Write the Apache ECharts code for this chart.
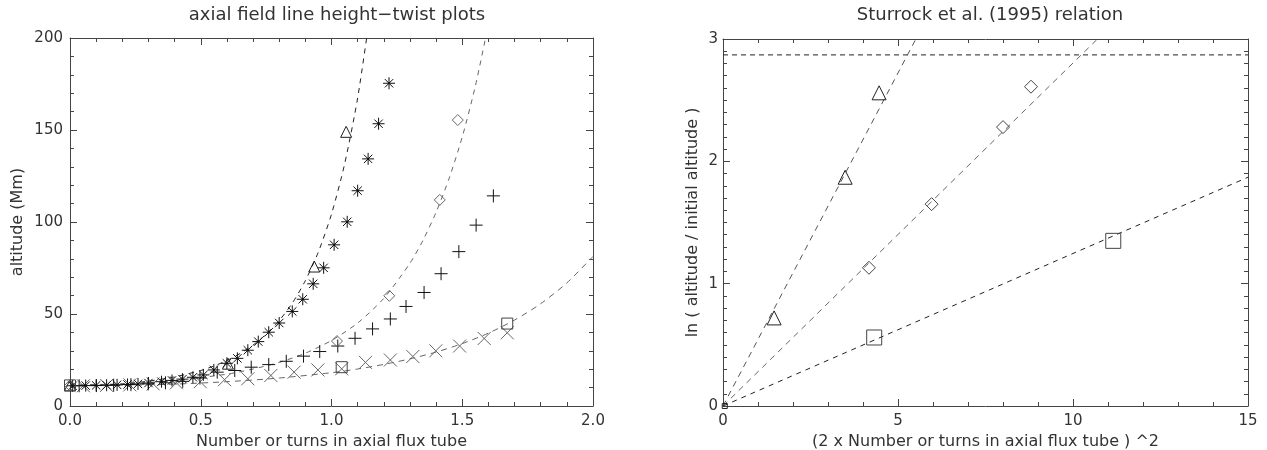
<!DOCTYPE html>
<html><head><meta charset="utf-8">
<script src="https://cdn.jsdelivr.net/npm/echarts@6/dist/echarts.min.js"></script>
<style>html,body{margin:0;padding:0;background:#fff}#c{width:1267px;height:450px}</style>
</head><body><div id="c"></div>
<script>
// ---- Left panel: altitude vs number of turns ----
const asteriskN = [0.01,0.06,0.10,0.14,0.18,0.22,0.26,0.30,0.35,0.39,0.43,0.47,0.51,0.55,0.60,0.64,0.68,0.72,0.76,0.80,0.85,0.89,0.93,0.97,1.01,1.06,1.10,1.14,1.18,1.22];
const asteriskH = [11.0,11.1,11.2,11.3,11.5,11.7,12.0,12.5,13.2,13.9,14.6,15.6,16.9,19.6,23.2,25.9,30.3,35.0,40.1,45.1,51.4,58.0,66.4,75.1,87.6,100.1,117.0,134.3,153.4,175.4];
const plusN = [0.035,0.101,0.167,0.233,0.299,0.365,0.431,0.497,0.563,0.630,0.693,0.760,0.827,0.893,0.955,1.024,1.090,1.157,1.225,1.285,1.354,1.419,1.487,1.553,1.619];
const plusH = [11.0,11.1,11.3,11.6,12.0,12.6,13.4,15.2,18.4,19.3,21.1,22.5,24.3,27.1,29.6,32.6,36.8,41.9,47.3,54.1,61.7,71.9,83.9,98.3,114.2];
const crossN = [0.051,0.140,0.229,0.318,0.407,0.498,0.591,0.680,0.768,0.857,0.948,1.039,1.130,1.225,1.311,1.399,1.490,1.584,1.672];
const crossH = [11.0,11.2,11.5,12.0,12.6,13.2,14.3,14.8,16.6,18.4,19.6,20.2,23.7,25.0,26.9,30.0,32.6,36.7,39.8];
const triN = [0.0,0.604,0.934,1.056];
const triH = [11.2,23.0,75.8,149.0];
const diaN = [0.0,1.021,1.221,1.414,1.483];
const diaH = [11.2,35.3,59.9,112.0,155.4];
const sqN = [0.0,1.039,1.672];
const sqH = [11.2,21.1,44.8];
const fit1N = [0,0.1,0.2,0.3,0.4,0.5,0.55,0.6,0.65,0.7,0.75,0.8,0.85,0.9,0.95,1.0,1.05,1.1,1.15];
const fit1H = [11,11.25,12.0,13.5,15.8,19.3,21.7,24.7,28.5,33.1,39.0,46.4,55.9,68.1,83.8,104.3,131.4,167.4,215.6];
const fit2N = [0,0.2,0.4,0.6,0.7,0.8,0.9,1.0,1.1,1.2,1.3,1.35,1.4,1.45,1.5,1.55,1.6];
const fit2H = [11.5,12.0,13.8,17.3,20.1,23.7,28.7,35.6,45.1,58.5,77.6,90.1,105.3,123.8,146.2,173.8,207.6];
const fit3N = [0,0.2,0.4,0.6,0.8,1.0,1.1,1.2,1.3,1.4,1.5,1.6,1.7,1.8,1.9,2.0];
const fit3H = [11,11.2,11.9,13.2,15.2,18.1,20.1,22.6,25.6,29.3,33.9,39.6,46.7,55.6,66.9,81.3];

// ---- Right panel: ln(h/h0) vs (2N)^2 ----
const rTriX = [1.46,3.49,4.46];
const rTriY = [0.72,1.87,2.56];
const rDiaX = [4.17,5.96,8.00,8.80];
const rDiaY = [1.13,1.65,2.28,2.61];
const rSqX = [4.32,11.15];
const rSqY = [0.56,1.35];
const rOriginX = [0.05];
const rOriginY = [0.0];
const rLineTriX = [0, 5.51];
const rLineTriY = [0, 3.0];
const rLineDiaX = [0, 10.7];
const rLineDiaY = [0, 3.0];
const rLineSqX = [0, 15];
const rLineSqY = [0, 1.87];
const rLimitX = [0, 15];
const rLimitY = [2.87, 2.87];

const leftTitle = 'axial field line height\u2212twist plots';
const rightTitle = 'Sturrock et al. (1995) relation';

const zip = (a, b) => a.map((v, i) => [v, b[i]]);
const FONT = 'DejaVu Sans';
const TXT = '#333';
const AX = '#444';

const SYM_PLUS = 'path://M5,0L5,10M0,5L10,5';
const SYM_X = 'path://M0,0L10,10M10,0L0,10';
const SYM_AST = 'path://M5,0L5,10M0,5L10,5M1.5,1.5L8.5,8.5M8.5,1.5L1.5,8.5M4.6,4.6L5.4,4.6L5.4,5.4L4.6,5.4Z';

function mainX(grid, min, max, interval, fmt, name, gap) {
  return {
    type: 'value', gridIndex: grid, min, max, interval, position: 'bottom',
    axisLine: { show: true, onZero: false, lineStyle: { color: AX, width: 1 } },
    axisTick: { show: true, inside: true, length: 7, lineStyle: { color: AX } },
    minorTick: { show: true, splitNumber: 5, length: 4, lineStyle: { color: AX } },
    splitLine: { show: false },
    axisLabel: { color: TXT, fontFamily: FONT, fontSize: 15, margin: 8, formatter: fmt },
    name, nameLocation: 'middle', nameGap: gap,
    nameTextStyle: { color: TXT, fontFamily: FONT, fontSize: 16 }
  };
}
function mirrorX(grid, min, max, interval) {
  return {
    type: 'value', gridIndex: grid, min, max, interval, position: 'top',
    axisLine: { show: true, onZero: false, lineStyle: { color: AX, width: 1 } },
    axisTick: { show: true, inside: true, length: 7, lineStyle: { color: AX } },
    minorTick: { show: true, splitNumber: 5, length: 4, lineStyle: { color: AX } },
    splitLine: { show: false }, axisLabel: { show: false }
  };
}
function mainY(grid, min, max, interval, minorSplit, name, gap, margin) {
  return {
    type: 'value', gridIndex: grid, min, max, interval, position: 'left',
    axisLine: { show: true, onZero: false, lineStyle: { color: AX, width: 1 } },
    axisTick: { show: true, inside: true, length: 7, lineStyle: { color: AX } },
    minorTick: { show: true, splitNumber: minorSplit, length: 4, lineStyle: { color: AX } },
    splitLine: { show: false },
    axisLabel: { color: TXT, fontFamily: FONT, fontSize: 15, margin },
    name, nameLocation: 'middle', nameGap: gap, nameRotate: 90,
    nameTextStyle: { color: TXT, fontFamily: FONT, fontSize: 16 }
  };
}
function mirrorY(grid, min, max, interval, minorSplit) {
  return {
    type: 'value', gridIndex: grid, min, max, interval, position: 'right',
    axisLine: { show: true, onZero: false, lineStyle: { color: AX, width: 1 } },
    axisTick: { show: true, inside: true, length: 7, lineStyle: { color: AX } },
    minorTick: { show: true, splitNumber: minorSplit, length: 4, lineStyle: { color: AX } },
    splitLine: { show: false }, axisLabel: { show: false }
  };
}

function scatter(xi, yi, data, symbol, size, color, width) {
  return {
    type: 'scatter', xAxisIndex: xi, yAxisIndex: yi, data, symbol, symbolSize: size,
    itemStyle: { color: 'none', borderColor: color, borderWidth: width || 1, opacity: 1 },
    emphasis: { disabled: true }, silent: true, z: 3
  };
}
function dashed(xi, yi, data, color, dash, smooth) {
  return {
    type: 'line', xAxisIndex: xi, yAxisIndex: yi, data, showSymbol: false, symbol: 'none',
    smooth: smooth || false,
    lineStyle: { color, width: 1, type: dash },
    emphasis: { disabled: true }, silent: true, z: 2, clip: true
  };
}

const chart = echarts.init(document.getElementById('c'), null, { renderer: 'canvas' });
chart.setOption({
  animation: false,
  backgroundColor: '#fff',
  title: [
    { text: leftTitle, left: 332, top: 1, textAlign: 'center',
      textStyle: { color: TXT, fontFamily: FONT, fontSize: 18, fontWeight: 'normal' } },
    { text: rightTitle, left: 985, top: 1, textAlign: 'center',
      textStyle: { color: TXT, fontFamily: FONT, fontSize: 18, fontWeight: 'normal' } }
  ],
  grid: [
    { left: 70, top: 38, width: 523, height: 368, containLabel: false, outerBoundsMode: 'none' },
    { left: 723, top: 39, width: 525, height: 367, containLabel: false, outerBoundsMode: 'none' }
  ],
  xAxis: [
    mainX(0, 0, 2, 0.5, v => v.toFixed(1), 'Number or turns in axial flux tube', 23),
    mirrorX(0, 0, 2, 0.5),
    mainX(1, 0, 15, 5, v => String(v), '(2 x Number or turns in axial flux tube ) ^2', 23),
    mirrorX(1, 0, 15, 5)
  ],
  yAxis: [
    mainY(0, 0, 200, 50, 5, 'altitude (Mm)', 44, 7),
    mirrorY(0, 0, 200, 50, 5),
    mainY(1, 0, 3, 1, 10, 'ln ( altitude / initial altitude )', 22, 5),
    mirrorY(1, 0, 3, 1, 10)
  ],
  series: [
    dashed(0, 0, zip(fit1N, fit1H), '#222', [5, 5], 0.25),
    dashed(0, 0, zip(fit2N, fit2H), '#666', [5, 5], 0.25),
    dashed(0, 0, zip(fit3N, fit3H), '#666', [6, 5], 0.25),
    scatter(0, 0, zip(crossN, crossH), SYM_X, 13, '#666', 1),
    scatter(0, 0, zip(plusN, plusH), SYM_PLUS, 13, '#111', 1),
    scatter(0, 0, zip(asteriskN, asteriskH), SYM_AST, 12, '#111', 1),
    scatter(0, 0, zip(triN, triH), 'triangle', 11, '#222', 1),
    scatter(0, 0, zip(diaN, diaH), 'diamond', 11, '#666', 1),
    scatter(0, 0, zip(sqN, sqH), 'rect', 11, '#444', 1),

    dashed(2, 2, zip(rLimitX, rLimitY), '#222', [5, 4], false),
    dashed(2, 2, zip(rLineTriX, rLineTriY), '#555', [6, 5], false),
    dashed(2, 2, zip(rLineDiaX, rLineDiaY), '#666', [6, 5], false),
    dashed(2, 2, zip(rLineSqX, rLineSqY), '#222', [5, 5], false),
    scatter(2, 2, zip(rTriX, rTriY), 'triangle', 14, '#222', 1),
    scatter(2, 2, zip(rDiaX, rDiaY), 'diamond', 13, '#444', 1),
    scatter(2, 2, zip(rSqX, rSqY), 'rect', 15, '#444', 1),
    scatter(2, 2, zip(rOriginX, rOriginY), 'rect', 5, '#222', 1)
  ]
});
</script>
</body></html>
